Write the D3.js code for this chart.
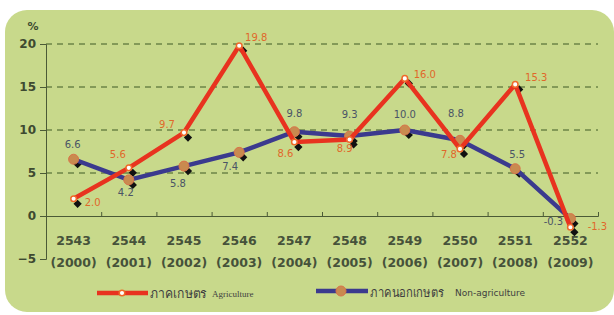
<!DOCTYPE html>
<html>
<head>
<meta charset="utf-8">
<script src="https://cdn.jsdelivr.net/npm/d3@7"></script>
<style>
  body { margin: 0; background: #fff; }
  svg { display: block; }
</style>
</head>
<body>
<svg id="chart" width="614" height="315"></svg>
<script>
// data
const thaiYears = ["2543", "2544", "2545", "2546", "2547", "2548", "2549", "2550", "2551", "2552"];
const years = ["2000", "2001", "2002", "2003", "2004", "2005", "2006", "2007", "2008", "2009"];
const agriculture = [2.0, 5.6, 9.7, 19.8, 8.6, 8.9, 16.0, 7.8, 15.3, -1.3];
const nonAgriculture = [6.6, 4.2, 5.8, 7.4, 9.8, 9.3, 10.0, 8.8, 5.5, -0.3];
const yTicks = [-5, 0, 5, 10, 15, 20];

// label offsets (dx, dy) relative to each point
const agriLabelPos = [[19, 4], [-11, -13], [-17, -8], [17, -8], [-9, 11], [-5, 9], [20, -4], [-11, 6], [21, -7], [27, -1]];
const nonLabelPos = [[-1, -15], [-3, 13], [-6, 17], [-9, 14], [0, -18], [0, -22], [0, -16], [-4, -27], [2, -14], [-17, 3]];

const svg = d3.select("#chart");
const green = "#4b5a36";

// panel background
svg.append("rect")
  .attr("x", 5).attr("y", 10)
  .attr("width", 609).attr("height", 302)
  .attr("rx", 22)
  .attr("fill", "#c8d98b");

const x = d3.scaleBand().domain(thaiYears).range([46, 598]);
const y = d3.scaleLinear().domain([-5, 20]).range([259, 44]);
const cx = i => x(thaiYears[i]) + x.bandwidth() / 2;

// dashed gridlines
svg.append("g")
  .selectAll("line")
  .data(yTicks.filter(d => d > 0))
  .join("line")
  .attr("x1", 46).attr("x2", 598)
  .attr("y1", d => y(d)).attr("y2", d => y(d))
  .attr("stroke", "#3f5a25")
  .attr("stroke-width", 1)
  .attr("stroke-dasharray", "6,5");

// y axis
const yAxis = svg.append("g")
  .attr("transform", "translate(46,0)")
  .call(d3.axisLeft(y).tickValues(yTicks).tickSize(6).tickFormat(d3.format("d")));
yAxis.select(".domain").attr("stroke", green).attr("stroke-width", 1);
yAxis.selectAll(".tick line").attr("stroke", green);
yAxis.selectAll("text")
  .attr("x", -10)
  .attr("fill", "#3e4a30")
  .style("font", "bold 12px 'DejaVu Sans', sans-serif");

svg.append("text")
  .attr("x", 33).attr("y", 30)
  .attr("text-anchor", "middle")
  .attr("fill", "#3e4a30")
  .style("font", "bold 11px 'DejaVu Sans', sans-serif")
  .text("%");

// x axis along zero
const xAxis = svg.append("g")
  .attr("transform", `translate(0,${y(0)})`)
  .call(d3.axisTop(d3.scaleLinear().domain([0, 10]).range([46, 598]))
    .ticks(10).tickSize(4).tickFormat(""));
xAxis.select(".domain").attr("stroke", green);
xAxis.selectAll(".tick line").attr("stroke", green);

const xLabels = svg.append("g");
xLabels.selectAll("text.th")
  .data(thaiYears)
  .join("text")
  .attr("class", "th")
  .attr("x", d => x(d) + x.bandwidth() / 2)
  .attr("y", 245)
  .attr("text-anchor", "middle")
  .attr("fill", "#46523a")
  .style("font", "bold 12.5px 'DejaVu Sans', sans-serif")
  .text(d => d);
xLabels.selectAll("text.en")
  .data(years)
  .join("text")
  .attr("class", "en")
  .attr("x", (d, i) => cx(i))
  .attr("y", 267)
  .attr("text-anchor", "middle")
  .attr("fill", "#46523a")
  .style("font", "bold 12.5px 'DejaVu Sans', sans-serif")
  .text(d => "(" + d + ")");

// black diamond shadows
const shadow = (vals) => svg.append("g")
  .selectAll("path")
  .data(vals)
  .join("path")
  .attr("d", d3.symbol(d3.symbolSquare, 34))
  .attr("transform", (d, i) => `translate(${cx(i) + 4},${y(d) + 5}) rotate(45)`)
  .attr("fill", "#111");
shadow(nonAgriculture);
shadow(agriculture);

const line = d3.line().x((d, i) => cx(i)).y(d => y(d));

svg.append("path")
  .datum(nonAgriculture)
  .attr("d", line)
  .attr("fill", "none")
  .attr("stroke", "#3b3a8e")
  .attr("stroke-width", 4.5)
  .attr("stroke-linejoin", "round");

svg.append("g")
  .selectAll("circle")
  .data(nonAgriculture)
  .join("circle")
  .attr("cx", (d, i) => cx(i))
  .attr("cy", d => y(d))
  .attr("r", 5)
  .attr("fill", "#c98a4f")
  .attr("stroke", "#d9744a")
  .attr("stroke-width", 1);

svg.append("path")
  .datum(agriculture)
  .attr("d", line)
  .attr("fill", "none")
  .attr("stroke", "#e8331f")
  .attr("stroke-width", 4.5)
  .attr("stroke-linejoin", "round");

svg.append("g")
  .selectAll("circle")
  .data(agriculture)
  .join("circle")
  .attr("cx", (d, i) => cx(i))
  .attr("cy", d => y(d))
  .attr("r", 2.8)
  .attr("fill", "#fff")
  .attr("stroke", "#ef6a2a")
  .attr("stroke-width", 1.5);

// value labels
svg.append("g")
  .selectAll("text")
  .data(nonAgriculture)
  .join("text")
  .attr("x", (d, i) => cx(i) + nonLabelPos[i][0])
  .attr("y", (d, i) => y(d) + nonLabelPos[i][1])
  .attr("text-anchor", "middle")
  .attr("dy", "0.35em")
  .attr("fill", "#4a5466")
  .style("font", "10px 'DejaVu Sans', sans-serif")
  .text(d => d.toFixed(1));

svg.append("g")
  .selectAll("text")
  .data(agriculture)
  .join("text")
  .attr("x", (d, i) => cx(i) + agriLabelPos[i][0])
  .attr("y", (d, i) => y(d) + agriLabelPos[i][1])
  .attr("text-anchor", "middle")
  .attr("dy", "0.35em")
  .attr("fill", "#e0682a")
  .style("font", "10px 'DejaVu Sans', sans-serif")
  .text(d => d.toFixed(1));

// legend
const legend = svg.append("g");
legend.append("line")
  .attr("x1", 97).attr("x2", 148).attr("y1", 293).attr("y2", 293)
  .attr("stroke", "#e8331f").attr("stroke-width", 4.5);
legend.append("circle")
  .attr("cx", 122).attr("cy", 293).attr("r", 2.8)
  .attr("fill", "#fff").attr("stroke", "#ef6a2a").attr("stroke-width", 1.5);
legend.append("text")
  .attr("x", 150).attr("y", 298)
  .attr("fill", "#3f3f3f")
  .attr("textLength", 57).attr("lengthAdjust", "spacingAndGlyphs")
  .style("font", "13px 'Noto Sans', sans-serif")
  .text("ภาคเกษตร");
legend.append("text")
  .attr("x", 212).attr("y", 297)
  .attr("fill", "#3f3f3f")
  .style("font", "9px 'Liberation Serif', serif")
  .text("Agriculture");

legend.append("line")
  .attr("x1", 316).attr("x2", 368).attr("y1", 291).attr("y2", 291)
  .attr("stroke", "#3b3a8e").attr("stroke-width", 4.5);
legend.append("circle")
  .attr("cx", 341).attr("cy", 291).attr("r", 5)
  .attr("fill", "#c98a4f").attr("stroke", "#d9744a");
legend.append("text")
  .attr("x", 370).attr("y", 297)
  .attr("fill", "#3f3f3f")
  .attr("textLength", 74).attr("lengthAdjust", "spacingAndGlyphs")
  .style("font", "13px 'Noto Sans', sans-serif")
  .text("ภาคนอกเกษตร");
legend.append("text")
  .attr("x", 455).attr("y", 296)
  .attr("fill", "#3f3f3f")
  .style("font", "9px 'DejaVu Sans', sans-serif")
  .text("Non-agriculture");
</script>
</body>
</html>
